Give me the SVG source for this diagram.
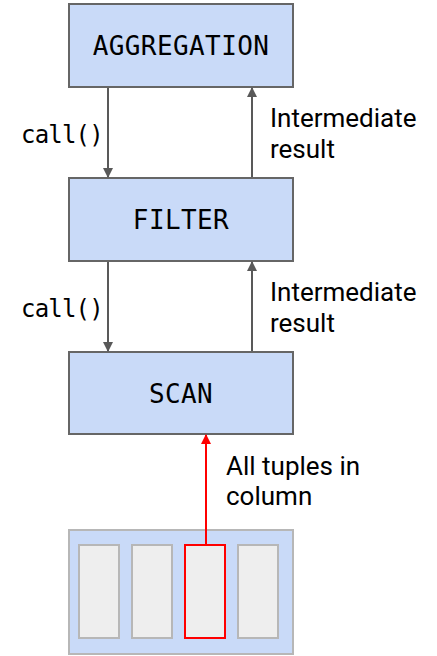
<svg xmlns="http://www.w3.org/2000/svg" width="437" height="656" viewBox="0 0 437 656">
<style>
.box{fill:#c9daf8;stroke:#666666;stroke-width:2}
.mono{font-family:"DejaVu Sans Mono","Liberation Mono",monospace;font-size:24px;letter-spacing:-0.8px;fill:#000}
.lbl{font-family:"DejaVu Sans Mono","Liberation Mono",monospace;font-size:26px;letter-spacing:0.4px;text-anchor:middle;fill:#000}
.sans{font-family:Roboto,"Noto Sans",sans-serif;font-size:26px;fill:#000}
.conn{stroke:#595959;stroke-width:2;fill:none}
.col{fill:#eeeeee;stroke:#b7b7b7;stroke-width:2}
</style>
<defs>
<marker id="ah" viewBox="0 0 10 10" refX="9" refY="5" markerWidth="5" markerHeight="5" orient="auto" markerUnits="strokeWidth">
<path d="M0,0L10,5L0,10z" fill="#595959"/>
</marker>
<marker id="ahr" viewBox="0 0 10 10" refX="9" refY="5" markerWidth="5" markerHeight="5" orient="auto" markerUnits="strokeWidth">
<path d="M0,0L10,5L0,10z" fill="#ff0000"/>
</marker>
</defs>
<g id="aggregation">
<rect class="box" x="69" y="4" width="224" height="83"/>
<text class="lbl" x="181" y="55">AGGREGATION</text>
</g>
<g id="filter">
<rect class="box" x="69" y="178" width="224" height="83"/>
<text class="lbl" x="181" y="229">FILTER</text>
</g>
<g id="scan">
<rect class="box" x="69" y="352" width="224" height="82"/>
<text class="lbl" x="181" y="403">SCAN</text>
</g>
<g id="storage">
<rect x="69" y="530" width="224" height="124" fill="#c9daf8" stroke="#b7b7b7" stroke-width="2"/>
<rect class="col" x="79" y="545" width="40" height="93"/>
<rect class="col" x="132" y="545" width="40" height="93"/>
<rect x="185" y="545" width="40" height="93" fill="#eeeeee" stroke="#ff0000" stroke-width="2"/>
<rect class="col" x="238" y="545" width="40" height="93"/>
</g>
<g id="connectors">
<line class="conn" x1="108" y1="88" x2="108" y2="177" marker-end="url(#ah)"/>
<line class="conn" x1="252" y1="177" x2="252" y2="88" marker-end="url(#ah)"/>
<line class="conn" x1="108" y1="262" x2="108" y2="351" marker-end="url(#ah)"/>
<line class="conn" x1="252" y1="351" x2="252" y2="262" marker-end="url(#ah)"/>
<line x1="206" y1="545" x2="206" y2="435" stroke="#ff0000" stroke-width="2" marker-end="url(#ahr)"/>
</g>
<g id="labels">
<text class="mono" x="21" y="143">call()</text>
<text class="mono" x="21" y="317">call()</text>
<text class="sans" x="270" y="127">Intermediate</text>
<text class="sans" x="270" y="158">result</text>
<text class="sans" x="270" y="301">Intermediate</text>
<text class="sans" x="270" y="332">result</text>
<text class="sans" x="226" y="475">All tuples in</text>
<text class="sans" x="226" y="505">column</text>
</g>
</svg>
